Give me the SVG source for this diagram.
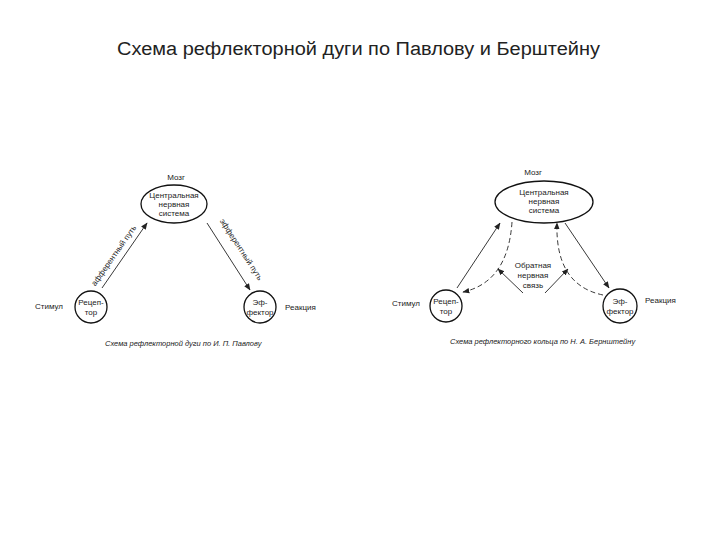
<svg xmlns="http://www.w3.org/2000/svg" width="720" height="540" viewBox="0 0 720 540">
<style>
text{font-family:"Liberation Sans",Arial,sans-serif;fill:#222}
.t{font-size:8px;text-anchor:middle}
.s{font-size:8px}
.c{font-size:7.5px;font-style:italic}
.n{fill:#fff;stroke:#111;stroke-width:1.3}
.l{fill:none;stroke:#222;stroke-width:0.9}
.d{fill:none;stroke:#222;stroke-width:0.9;stroke-dasharray:5,3}
</style>
<defs>
<marker id="a" viewBox="0 0 10 10" refX="9" refY="5" markerWidth="7" markerHeight="7" orient="auto" markerUnits="userSpaceOnUse">
<path d="M0,1 L10,5 L0,9 Z" fill="#222"/>
</marker>
</defs>
<rect width="720" height="540" fill="#fff"/>
<text x="117" y="55" textLength="483" lengthAdjust="spacingAndGlyphs" style="font-size:18px">Схема рефлекторной дуги по Павлову и Берштейну</text>

<g id="connectors">
<line class="l" x1="102" y1="288" x2="147" y2="223" marker-end="url(#a)"/>
<line class="l" x1="207" y1="223" x2="250" y2="290" marker-end="url(#a)"/>
<line class="l" x1="457" y1="288" x2="500" y2="223" marker-end="url(#a)"/>
<path class="d" d="M512,222 Q508,282 463,292" marker-end="url(#a)"/>
<line class="l" x1="565" y1="223" x2="609" y2="288" marker-end="url(#a)"/>
<path class="d" d="M603,295 Q555,285 557,223" marker-end="url(#a)"/>
<line class="l" x1="523" y1="293" x2="498" y2="269" marker-end="url(#a)"/>
<line class="l" x1="545" y1="293" x2="568" y2="269" marker-end="url(#a)"/>
</g>

<g id="pavlov-labels">
<text class="t" x="0" y="0" transform="translate(116,257) rotate(-55)">афферентный путь</text>
<text class="t" x="0" y="0" transform="translate(239,251) rotate(57)">эфферентный путь</text>
<text class="c" x="105" y="346">Схема рефлекторной дуги по И. П. Павлову</text>
</g>

<g id="pavlov-cns">
<text class="t" x="176" y="180">Мозг</text>
<ellipse class="n" cx="174" cy="204" rx="33" ry="19"/>
<text class="t" x="174" y="198">Центральная</text>
<text class="t" x="174" y="207">нервная</text>
<text class="t" x="174" y="216">система</text>
</g>
<g id="pavlov-receptor">
<circle class="n" cx="91" cy="307" r="16"/>
<text class="t" x="91" y="305">Рецеп-</text>
<text class="t" x="91" y="315">тор</text>
<text class="s" x="35" y="309">Стимул</text>
</g>
<g id="pavlov-effector">
<circle class="n" cx="260" cy="307" r="16"/>
<text class="t" x="260" y="305">Эф-</text>
<text class="t" x="260" y="315">фектор</text>
<text class="s" x="285" y="310">Реакция</text>
</g>

<g id="bernstein-cns">
<text class="t" x="533" y="175">Мозг</text>
<ellipse class="n" cx="544" cy="202" rx="49" ry="21"/>
<text class="t" x="544" y="195">Центральная</text>
<text class="t" x="544" y="204">нервная</text>
<text class="t" x="544" y="213">система</text>
</g>
<g id="bernstein-receptor">
<circle class="n" cx="446" cy="306" r="16"/>
<text class="t" x="446" y="304">Рецеп-</text>
<text class="t" x="446" y="314">тор</text>
<text class="s" x="392" y="306">Стимул</text>
</g>
<g id="bernstein-effector">
<circle class="n" cx="620" cy="306" r="17"/>
<text class="t" x="620" y="304">Эф-</text>
<text class="t" x="620" y="314">фектор</text>
<text class="s" x="645" y="303">Реакция</text>
</g>
<g id="bernstein-feedback">
<text class="t" x="533" y="268">Обратная</text>
<text class="t" x="533" y="278">нервная</text>
<text class="t" x="533" y="288">связь</text>
</g>
<text class="c" x="450" y="344">Схема рефлекторного кольца по Н. А. Бернштейну</text>
</svg>
